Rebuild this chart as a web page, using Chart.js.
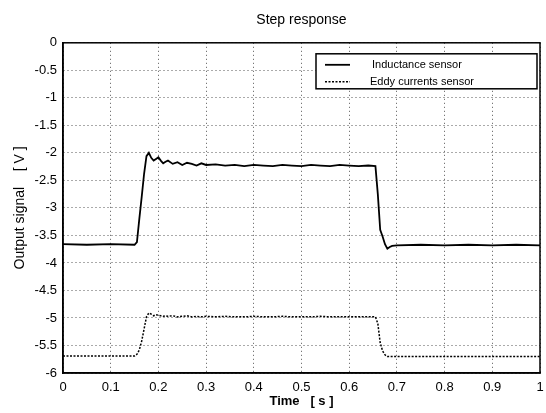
<!DOCTYPE html>
<html>
<head>
<meta charset="utf-8">
<script src="https://cdn.jsdelivr.net/npm/chart.js@4"></script>
<style>
  html, body { margin: 0; padding: 0; background: #fff; }
  #wrap { width: 546px; height: 413px; }
</style>
</head>
<body>
<div id="wrap"><canvas id="c" width="546" height="413"></canvas></div>
<script>
// time samples [s]
const times = [0, 0.05, 0.1, 0.15, 0.155, 0.16, 0.165, 0.17, 0.175, 0.18,
  0.185, 0.19, 0.195, 0.2, 0.205, 0.21, 0.215, 0.22, 0.23, 0.24,
  0.25, 0.26, 0.27, 0.28, 0.29, 0.3, 0.32, 0.34, 0.36, 0.38,
  0.4, 0.42, 0.44, 0.46, 0.48, 0.5, 0.52, 0.54, 0.56, 0.58,
  0.6, 0.62, 0.64, 0.655, 0.66, 0.665, 0.67, 0.675, 0.68, 0.685,
  0.69, 0.7, 0.75, 0.8, 0.85, 0.9, 0.95, 1.0];

// output signal [V]
const inductance = [-3.66, -3.67, -3.66, -3.67, -3.62, -3.2, -2.8, -2.38, -2.06, -2.0,
  -2.09, -2.14, -2.11, -2.08, -2.14, -2.19, -2.16, -2.14, -2.2, -2.17,
  -2.22, -2.18, -2.2, -2.23, -2.19, -2.22, -2.21, -2.23, -2.22, -2.24,
  -2.22, -2.23, -2.24, -2.22, -2.23, -2.24, -2.22, -2.23, -2.24, -2.22,
  -2.23, -2.24, -2.23, -2.24, -2.75, -3.4, -3.52, -3.66, -3.74, -3.71,
  -3.69, -3.68, -3.67, -3.68, -3.67, -3.68, -3.67, -3.68];

const eddy = [-5.69, -5.69, -5.69, -5.69, -5.66, -5.58, -5.42, -5.2, -4.98, -4.91,
  -4.93, -4.96, -4.94, -4.95, -4.96, -4.97, -4.96, -4.97, -4.96, -4.98,
  -4.97, -4.96, -4.98, -4.97, -4.98, -4.97, -4.98, -4.97, -4.98, -4.98,
  -4.97, -4.98, -4.98, -4.97, -4.98, -4.98, -4.98, -4.97, -4.98, -4.98,
  -4.98, -4.98, -4.98, -4.98, -5.1, -5.45, -5.6, -5.67, -5.7, -5.7,
  -5.7, -5.7, -5.7, -5.7, -5.7, -5.7, -5.7, -5.7];

const seriesNames = ["Inductance sensor", "Eddy currents sensor"];

const FONT = "'Liberation Sans', Arial, sans-serif";

function fmt(v) {
  return String(Math.round(v * 10) / 10);
}

// frame round the plot area
const framePlugin = {
  id: "frame",
  afterDraw(chart) {
    const a = chart.chartArea;
    const ctx = chart.ctx;
    ctx.save();
    ctx.strokeStyle = "#000";
    ctx.lineWidth = 1.5;
    ctx.setLineDash([]);
    ctx.strokeRect(a.left, a.top, a.right - a.left, a.bottom - a.top);
    ctx.restore();
  }
};

// boxed legend inside the plot, upper right
const boxLegend = {
  id: "boxLegend",
  afterDatasetsDraw(chart) {
    const a = chart.chartArea;
    const ctx = chart.ctx;
    const w = 221, h = 35;
    const x = a.right - w - 3, y = a.top + 11;
    ctx.save();
    ctx.fillStyle = "#fff";
    ctx.fillRect(x, y, w, h);
    ctx.strokeStyle = "#000";
    ctx.lineWidth = 1.5;
    ctx.setLineDash([]);
    ctx.strokeRect(x, y, w, h);
    ctx.font = "11px " + FONT;
    ctx.textBaseline = "middle";
    chart.data.datasets.forEach((ds, i) => {
      const ly = y + 11 + i * 17;
      ctx.beginPath();
      ctx.setLineDash(ds.borderDash || []);
      ctx.lineWidth = ds.borderWidth;
      ctx.moveTo(x + 9, ly);
      ctx.lineTo(x + 34, ly);
      ctx.stroke();
      ctx.setLineDash([]);
      ctx.fillStyle = "#000";
      ctx.fillText(ds.label, x + (i === 0 ? 56 : 54), ly);
    });
    ctx.restore();
  }
};

new Chart(document.getElementById("c"), {
  type: "line",
  data: {
    datasets: [
      {
        label: seriesNames[0],
        data: times.map((t, i) => ({ x: t, y: inductance[i] })),
        borderColor: "#000",
        borderWidth: 1.8,
        pointRadius: 0,
        tension: 0
      },
      {
        label: seriesNames[1],
        data: times.map((t, i) => ({ x: t, y: eddy[i] })),
        borderColor: "#000",
        borderWidth: 1.5,
        borderDash: [2, 1.5],
        pointRadius: 0,
        tension: 0
      }
    ]
  },
  options: {
    responsive: false,
    animation: false,
    layout: { padding: { top: 4, right: 6, left: 0, bottom: 0 } },
    plugins: {
      legend: { display: false },
      tooltip: { enabled: false },
      title: {
        display: true,
        text: "Step response",
        fullSize: false,
        color: "#000",
        font: { family: FONT, size: 14, weight: "normal" },
        padding: { top: 8, bottom: 14 }
      }
    },
    scales: {
      x: {
        type: "linear",
        min: 0,
        max: 1,
        afterFit(s) { s.height = 40; s.paddingRight = 0; },
        ticks: {
          stepSize: 0.1,
          color: "#000",
          padding: 7,
          maxRotation: 0,
          font: { family: FONT, size: 13 },
          callback: fmt
        },
        grid: { color: "#555", lineWidth: 1, drawTicks: false },
        border: { display: true, color: "#000", width: 1.5, dash: [1, 3] },
        title: {
          display: true,
          text: "Time   [ s ]",
          color: "#000",
          font: { family: FONT, size: 13, weight: "bold" },
          padding: { top: 2, bottom: 4 }
        }
      },
      y: {
        min: -6,
        max: 0,
        afterFit(s) { s.width = 63; },
        ticks: {
          stepSize: 0.5,
          color: "#000",
          padding: 6,
          font: { family: FONT, size: 13 },
          callback: fmt
        },
        grid: { color: "#555", lineWidth: 1, drawTicks: false },
        border: { display: true, color: "#000", width: 1.5, dash: [1, 3] },
        title: {
          display: true,
          text: "Output signal    [ V ]",
          color: "#000",
          font: { family: FONT, size: 14 },
          padding: { top: 12, bottom: 0 }
        }
      }
    }
  },
  plugins: [framePlugin, boxLegend]
});
</script>
</body>
</html>
